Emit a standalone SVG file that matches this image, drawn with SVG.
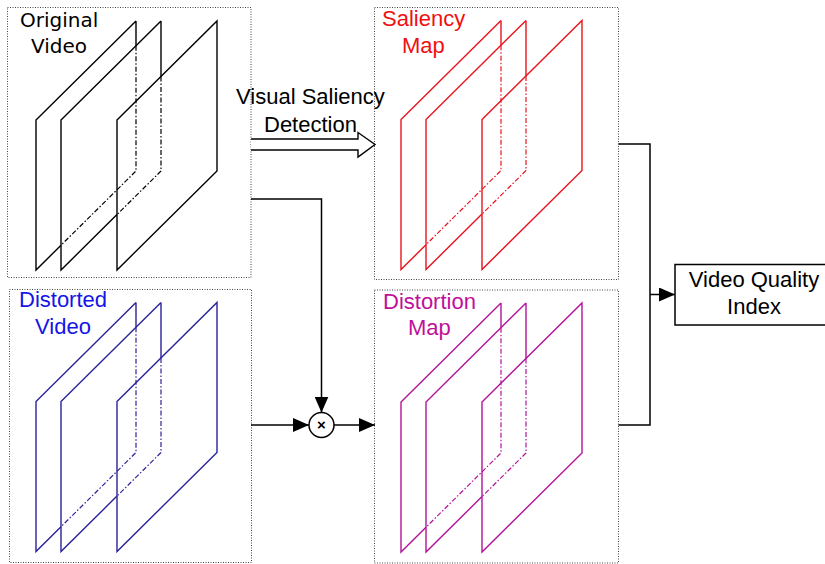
<svg xmlns="http://www.w3.org/2000/svg" xmlns:xlink="http://www.w3.org/1999/xlink" width="825" height="564" viewBox="0 0 825 564">
  <style>
    .panel { fill: none; stroke: #444; stroke-width: 1; stroke-dasharray: 1 1.5; }
    .solid { fill: none; stroke-width: 1.4; stroke-linejoin: miter; }
    .hidden { fill: none; stroke-width: 1.2; stroke-dasharray: 5 2 1.5 2; }
    .lbl { font-family: "Liberation Sans", Arial, sans-serif; font-size: 22px; }
    .lbl-dv { font-family: "DejaVu Sans", Verdana, sans-serif; font-size: 20px; }
    .wire { fill: none; stroke: #000; stroke-width: 1.5; }
  </style>
  <defs>
    <marker id="ah" markerWidth="16" markerHeight="14" refX="16" refY="7" orient="auto" markerUnits="userSpaceOnUse">
      <path d="M0,0 L16,7 L0,14 z" fill="#000"/>
    </marker>
    <!-- three stacked frames; hidden edges drawn dash-dot -->
    <g id="stack">
      <!-- frame A (back) -->
      <path class="solid" d="M100,0 L0,99 L0,249 L25,224.25 M100,0 L100,24.75"/>
      <path class="hidden" d="M100,24.75 L100,150 L25,224.25"/>
      <!-- frame B (middle) -->
      <path class="solid" d="M125,0 L25,99 L25,249 L81,193.6 M125,0 L125,55.4"/>
      <path class="hidden" d="M125,55.4 L125,150 L81,193.6"/>
      <!-- frame C (front) -->
      <path class="solid" d="M81,99 L181,0 L181,150 L81,249 Z"/>
    </g>
  </defs>

  <rect width="825" height="564" fill="#fff"/>

  <g id="original-video">
    <rect class="panel" x="7.5" y="7.5" width="243.5" height="270"/>
    <use xlink:href="#stack" href="#stack" stroke="#000" transform="translate(36,21)"/>
    <text class="lbl-dv" x="20" y="26.5" fill="#000">Original</text>
    <text class="lbl-dv" x="31" y="53" fill="#000">Video</text>
  </g>

  <g id="distorted-video">
    <rect class="panel" x="9.5" y="289.5" width="242" height="273"/>
    <use xlink:href="#stack" href="#stack" stroke="#2b2399" transform="translate(36,302.5)"/>
    <text class="lbl" x="19" y="307" fill="#1515e6">Distorted</text>
    <text class="lbl" x="35" y="334" fill="#1515e6">Video</text>
  </g>

  <g id="saliency-map">
    <rect class="panel" x="374.5" y="7.5" width="244" height="272"/>
    <use xlink:href="#stack" href="#stack" stroke="#e8141e" transform="translate(401,20.5)"/>
    <text class="lbl" x="382" y="26" fill="#f01010">Saliency</text>
    <text class="lbl" x="402" y="53" fill="#f01010">Map</text>
  </g>

  <g id="distortion-map">
    <rect class="panel" x="374.5" y="290" width="244" height="273"/>
    <use xlink:href="#stack" href="#stack" stroke="#b3139a" transform="translate(401,303)"/>
    <text class="lbl" x="383" y="309" fill="#c0109a">Distortion</text>
    <text class="lbl" x="408" y="335" fill="#c0109a">Map</text>
  </g>

  <g id="multiplier">
    <circle cx="321.5" cy="425" r="12.5" fill="#fff" stroke="#000" stroke-width="1.5"/>
    <text x="321.5" y="430" text-anchor="middle" font-family="Liberation Sans, Arial, sans-serif" font-size="15" font-weight="bold" fill="#000">×</text>
  </g>

  <g id="video-quality-index">
    <rect x="675" y="264.5" width="160" height="60.5" fill="#fff" stroke="#000" stroke-width="1.5"/>
    <text class="lbl" x="754" y="287" text-anchor="middle" fill="#000">Video Quality</text>
    <text class="lbl" x="754" y="314" text-anchor="middle" fill="#000">Index</text>
  </g>

  <g id="connectors">
    <!-- saliency detection step -->
    <path d="M251,139 L358,139 L358,132.5 L375,144.5 L358,157 L358,150 L251,150" fill="#fff" stroke="#000" stroke-width="1.4"/>
    <text class="lbl" x="236" y="104" fill="#000">Visual Saliency</text>
    <text class="lbl" x="264" y="131.5" fill="#000">Detection</text>
    <!-- original video into multiplier -->
    <path class="wire" d="M251,199 L321.5,199 L321.5,412.5" marker-end="url(#ah)"/>
    <!-- distorted video into multiplier -->
    <path class="wire" d="M251,425 L309,425" marker-end="url(#ah)"/>
    <!-- multiplier into distortion map -->
    <path class="wire" d="M334,425 L375,425" marker-end="url(#ah)"/>
    <!-- both maps pooled into the index -->
    <path class="wire" d="M618.5,144 L650,144 L650,425 L618.5,425"/>
    <path class="wire" d="M650,294.5 L675,294.5" marker-end="url(#ah)"/>
  </g>
</svg>
